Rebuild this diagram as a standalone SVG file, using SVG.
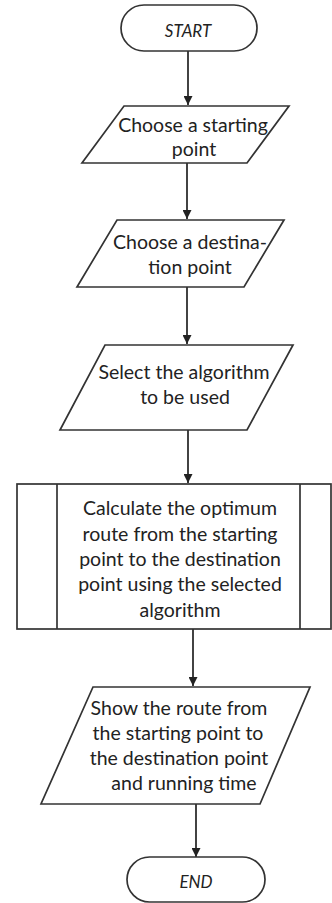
<svg xmlns="http://www.w3.org/2000/svg" width="332" height="903" viewBox="0 0 332 903">
  <defs>
    <marker id="arrow" viewBox="0 0 10 10" refX="10" refY="5" markerWidth="9" markerHeight="9" markerUnits="userSpaceOnUse" orient="auto">
      <path d="M0,0 L10,5 L0,10 z" fill="#222"/>
    </marker>
    <style>
      .shape { fill: #fff; stroke: #333; stroke-width: 1.7; }
      .edge { fill: none; stroke: #222; stroke-width: 1.7; marker-end: url(#arrow); }
      .label { font-family: Lato, "Liberation Sans", sans-serif; font-size: 19.5px; fill: #222; text-anchor: middle; }
      .term { font-family: Lato, "Liberation Sans", sans-serif; font-size: 17px; font-style: italic; fill: #222; text-anchor: middle; }
    </style>
  </defs>
  <rect width="332" height="903" fill="#fff"/>

  <!-- connectors -->
  <g id="connectors">
    <line class="edge" x1="188" y1="51" x2="188" y2="105"/>
    <line class="edge" x1="187" y1="163" x2="187" y2="219"/>
    <line class="edge" x1="187" y1="287" x2="187" y2="344"/>
    <line class="edge" x1="188" y1="430" x2="188" y2="483"/>
    <line class="edge" x1="193" y1="629" x2="193" y2="686"/>
    <line class="edge" x1="196" y1="804" x2="196" y2="857"/>
  </g>

  <!-- start terminal -->
  <g id="start">
    <rect class="shape" x="121" y="5" width="136" height="46" rx="23" ry="23"/>
    <text class="term" x="188" y="37">START</text>
  </g>

  <!-- input: starting point -->
  <g id="choose-start">
    <polygon class="shape" points="124,106 289,106 247,163 82,163"/>
    <text class="label" x="193" y="132">Choose a starting</text>
    <text class="label" x="194" y="156">point</text>
  </g>

  <!-- input: destination point -->
  <g id="choose-destination">
    <polygon class="shape" points="117,220 284,220 244,287 77,287"/>
    <text class="label" x="190" y="249">Choose a destina-</text>
    <text class="label" x="190" y="274">tion point</text>
  </g>

  <!-- input: algorithm -->
  <g id="select-algorithm">
    <polygon class="shape" points="105,345 293,345 247,430 60,430"/>
    <text class="label" x="184" y="379">Select the algorithm</text>
    <text class="label" x="185" y="404">to be used</text>
  </g>

  <!-- predefined process -->
  <g id="calculate-route">
    <rect class="shape" x="17" y="484" width="314" height="145"/>
    <line class="shape" x1="57" y1="484" x2="57" y2="629"/>
    <line class="shape" x1="300" y1="484" x2="300" y2="629"/>
    <text class="label" x="180" y="515">Calculate the optimum</text>
    <text class="label" x="180" y="541">route from the starting</text>
    <text class="label" x="180" y="566">point to the destination</text>
    <text class="label" x="180" y="591">point using the selected</text>
    <text class="label" x="180" y="617">algorithm</text>
  </g>

  <!-- output: route and running time -->
  <g id="show-route">
    <polygon class="shape" points="93,687 310,687 260,804 41,804"/>
    <text class="label" x="179" y="715">Show the route from</text>
    <text class="label" x="178" y="740">the starting point to</text>
    <text class="label" x="179" y="765">the destination point</text>
    <text class="label" x="184" y="790">and running time</text>
  </g>

  <!-- end terminal -->
  <g id="end">
    <rect class="shape" x="127" y="857" width="138" height="45" rx="22.5" ry="22.5"/>
    <text class="term" x="196" y="888">END</text>
  </g>
</svg>
